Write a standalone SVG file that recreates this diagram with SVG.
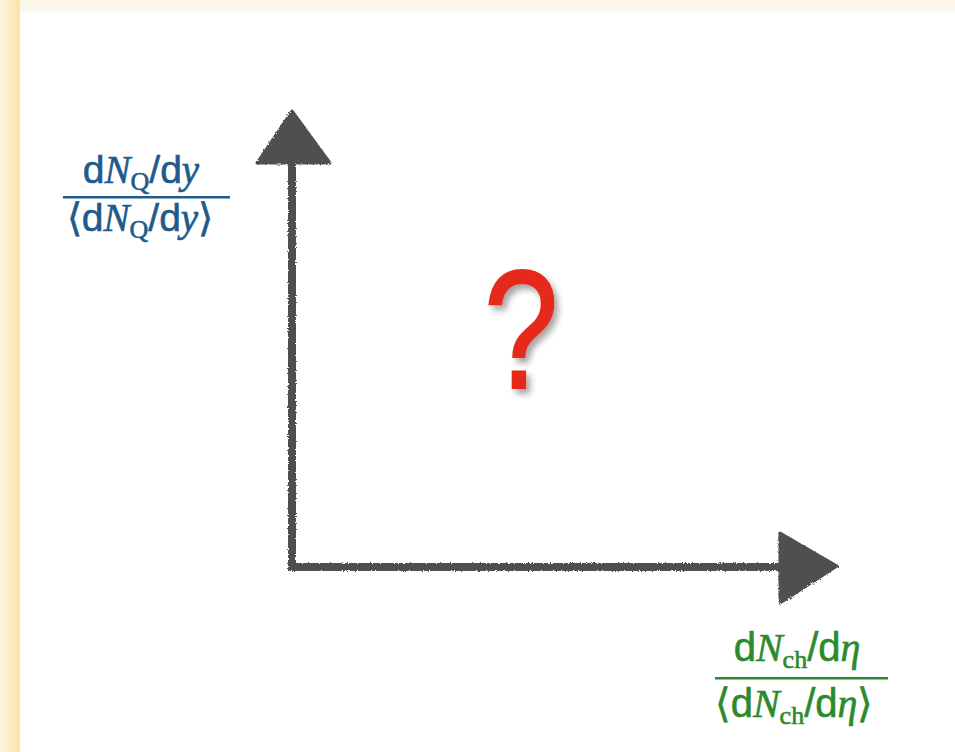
<svg xmlns="http://www.w3.org/2000/svg" width="955" height="752" viewBox="0 0 955 752">
<defs>
<linearGradient id="lg" x1="0" y1="0" x2="1" y2="0"><stop offset="0" stop-color="#fdf4de"/><stop offset="1" stop-color="#fbe3a6"/></linearGradient>
<linearGradient id="tg" x1="0" y1="0" x2="0" y2="1"><stop offset="0" stop-color="#fdf6e6"/><stop offset="1" stop-color="#fefaf0"/></linearGradient>
<filter id="rough" x="-10%" y="-10%" width="120%" height="120%">
<feTurbulence type="fractalNoise" baseFrequency="0.6" numOctaves="2" seed="3" result="n"/>
<feDisplacementMap in="SourceGraphic" in2="n" scale="3"/>
</filter>
<filter id="sh" x="-20%" y="-20%" width="150%" height="150%">
<feGaussianBlur in="SourceAlpha" stdDeviation="3"/>
<feOffset dx="4" dy="5" result="b"/>
<feComponentTransfer><feFuncA type="linear" slope="0.35"/></feComponentTransfer>
<feMerge><feMergeNode/><feMergeNode in="SourceGraphic"/></feMerge>
</filter>
</defs>
<style>
.ax{stroke:#505050;stroke-width:8;fill:none;stroke-linecap:square}
.hd{fill:#505050;stroke:#505050;stroke-width:3;stroke-linejoin:round}
.s{font-family:"Liberation Sans",Arial,sans-serif}
.i{font-family:"Liberation Serif","Times New Roman",serif;font-style:italic}
.r{font-family:"Liberation Serif","Times New Roman",serif}
.blue{fill:#1e5a8c;font-size:39px;stroke:#1e5a8c;stroke-width:0.6}
.green{fill:#2b8a2b;font-size:40px;stroke:#2b8a2b;stroke-width:0.6}
.sub{font-size:26px}
</style>
<rect x="0" y="0" width="955" height="752" fill="#ffffff"/>
<rect x="0" y="0" width="955" height="12" fill="url(#tg)"/>
<rect x="0" y="0" width="20" height="752" fill="url(#lg)"/>
<g id="connectors" filter="url(#rough)">
<path class="ax" d="M292,160 L292,567 L785,567"/>
<polygon class="hd" points="292,111 330,163 257,163"/>
<polygon class="hd" points="837,566 780,533 780,603"/>
</g>
<g id="question" filter="url(#sh)">
<text x="0" y="0" text-anchor="middle" class="s" font-size="168" fill="#e52b1c" stroke="#e52b1c" stroke-width="2" transform="translate(521,388) scale(0.8,1)">?</text>
</g>
<g id="ylabel">
<text x="141" y="183" text-anchor="middle" class="blue"><tspan class="s">d</tspan><tspan class="i">N</tspan><tspan class="r sub" dy="7">Q</tspan><tspan class="s" dy="-7">/d</tspan><tspan class="i">y</tspan></text>
<rect x="63" y="196" width="167" height="2.5" fill="#1e5a8c"/>
<text x="140" y="231" text-anchor="middle" class="blue"><tspan class="r">⟨</tspan><tspan class="s">d</tspan><tspan class="i">N</tspan><tspan class="r sub" dy="7">Q</tspan><tspan class="s" dy="-7">/d</tspan><tspan class="i">y</tspan><tspan class="r">⟩</tspan></text>
</g>
<g id="xlabel">
<text x="797" y="661" text-anchor="middle" class="green"><tspan class="s">d</tspan><tspan class="i">N</tspan><tspan class="r sub" dy="7">ch</tspan><tspan class="s" dy="-7">/d</tspan><tspan class="i">η</tspan></text>
<rect x="715" y="677" width="173" height="2.5" fill="#2b8a2b"/>
<text x="794" y="717" text-anchor="middle" class="green"><tspan class="r">⟨</tspan><tspan class="s">d</tspan><tspan class="i">N</tspan><tspan class="r sub" dy="7">ch</tspan><tspan class="s" dy="-7">/d</tspan><tspan class="i">η</tspan><tspan class="r">⟩</tspan></text>
</g>
</svg>
